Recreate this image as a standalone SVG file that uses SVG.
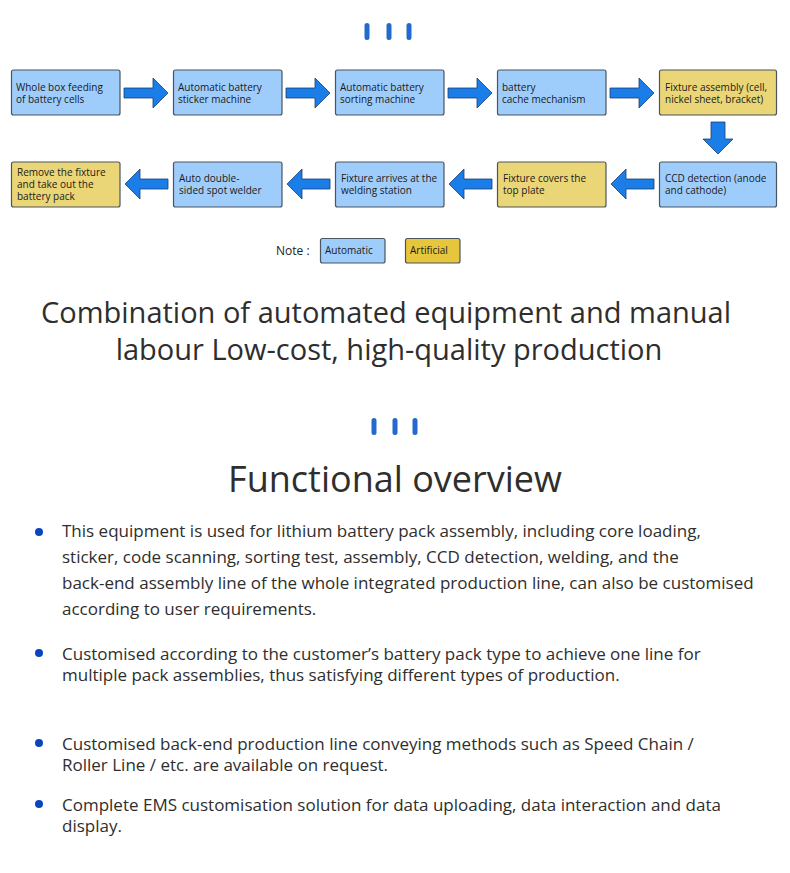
<svg xmlns="http://www.w3.org/2000/svg" width="790" height="873" viewBox="0 0 790 873">
<defs>
<style>
.auto{fill:#9fcdfb;stroke:#4a5560;stroke-width:1.2}
.man{fill:#ead676;stroke:#4a5560;stroke-width:1.2}
.bt{font-family:"Open Sans","Noto Sans",sans-serif;font-size:10px;fill:#1a1a1a}
.arr{fill:#1a7de8;stroke:#1b3f73;stroke-width:0.8}
.bar{fill:#2469cc}
.h1{font-family:"Open Sans","Noto Sans",sans-serif;font-size:29px;fill:#2e2e2e;text-anchor:middle}
.h2{font-family:"Open Sans","Noto Sans",sans-serif;font-size:36px;fill:#2e2e2e;text-anchor:middle}
.p{font-family:"Open Sans","Noto Sans",sans-serif;font-size:17px;fill:#2e2e2e}
.dot{fill:#0a45c0}
</style>
</defs>
<rect width="790" height="873" fill="#fff"/>
<g id="bars-top">
<rect class="bar" x="364.5" y="23" width="5" height="17" rx="2.5"/>
<rect class="bar" x="386.5" y="23" width="5" height="17" rx="2.5"/>
<rect class="bar" x="406.5" y="23" width="5" height="17" rx="2.5"/>
</g>
<g id="n1"><rect class="auto" x="11.5" y="70" width="108.5" height="45" rx="2"/><text class="bt" x="16" y="91">Whole box feeding</text><text class="bt" x="16" y="103">of battery cells</text></g>
<g id="n2"><rect class="auto" x="173.5" y="70" width="108.5" height="45" rx="2"/><text class="bt" x="178" y="91">Automatic battery</text><text class="bt" x="178" y="103">sticker machine</text></g>
<g id="n3"><rect class="auto" x="335.5" y="70" width="108.5" height="45" rx="2"/><text class="bt" x="340" y="91">Automatic battery</text><text class="bt" x="340" y="103">sorting machine</text></g>
<g id="n4"><rect class="auto" x="497.5" y="70" width="108.5" height="45" rx="2"/><text class="bt" x="502" y="91">battery</text><text class="bt" x="502" y="103">cache mechanism</text></g>
<g id="n5"><rect class="man" x="659.5" y="70" width="117" height="45" rx="2"/><text class="bt" x="665" y="91">Fixture assembly (cell,</text><text class="bt" x="665" y="103">nickel sheet, bracket)</text></g>
<g id="n6"><rect class="auto" x="659.5" y="162" width="117" height="45" rx="2"/><text class="bt" x="665" y="182">CCD detection (anode</text><text class="bt" x="665" y="194">and cathode)</text></g>
<g id="n7"><rect class="man" x="497.5" y="162" width="108.5" height="45" rx="2"/><text class="bt" x="503" y="182">Fixture covers the</text><text class="bt" x="503" y="194">top plate</text></g>
<g id="n8"><rect class="auto" x="335.5" y="162" width="108.5" height="45" rx="2"/><text class="bt" x="341" y="182">Fixture arrives at the</text><text class="bt" x="341" y="194">welding station</text></g>
<g id="n9"><rect class="auto" x="173.5" y="162" width="108.5" height="45" rx="2"/><text class="bt" x="179" y="182">Auto double-</text><text class="bt" x="179" y="194">sided spot welder</text></g>
<g id="n10"><rect class="man" x="11.5" y="162" width="108.5" height="45" rx="2"/><text class="bt" x="17" y="176">Remove the fixture</text><text class="bt" x="17" y="188">and take out the</text><text class="bt" x="17" y="200">battery pack</text></g>
<g id="connectors">
<polygon class="arr" points="124,88 153,88 153,78 168,93 153,108 153,98 124,98"/>
<polygon class="arr" points="286,88 315,88 315,78 330,93 315,108 315,98 286,98"/>
<polygon class="arr" points="448,88 477,88 477,78 492,93 477,108 477,98 448,98"/>
<polygon class="arr" points="610,88 639,88 639,78 654,93 639,108 639,98 610,98"/>
<polygon class="arr" points="711,122 725,122 725,139 733,139 718,154 703,139 711,139"/>
<polygon class="arr" points="654,179 626,179 626,169 611,184 626,199 626,189 654,189"/>
<polygon class="arr" points="492,179 464,179 464,169 449,184 464,199 464,189 492,189"/>
<polygon class="arr" points="330,179 302,179 302,169 287,184 302,199 302,189 330,189"/>
<polygon class="arr" points="168,179 140,179 140,169 125,184 140,199 140,189 168,189"/>
</g>
<g id="legend">
<text x="276" y="255" font-family="'Open Sans','Noto Sans',sans-serif" font-size="12" fill="#222">Note :</text>
<rect class="auto" x="320.5" y="238.5" width="64.5" height="24.5" rx="2"/>
<text class="bt" x="325" y="254">Automatic</text>
<rect x="405.5" y="238.5" width="54.5" height="24.5" rx="2" fill="#e6c63c" stroke="#4a5560" stroke-width="1.2"/>
<text class="bt" x="410" y="254">Artificial</text>
</g>
<g id="headline">
<text class="h1" x="386" y="323">Combination of automated equipment and manual</text>
<text class="h1" x="389" y="360">labour Low-cost, high-quality production</text>
</g>
<g id="bars-mid">
<rect class="bar" x="371.5" y="418" width="5" height="17" rx="2.5"/>
<rect class="bar" x="392.5" y="418" width="5" height="17" rx="2.5"/>
<rect class="bar" x="412.5" y="418" width="5" height="17" rx="2.5"/>
</g>
<text class="h2" x="395" y="492">Functional overview</text>
<g id="list">
<circle class="dot" cx="39" cy="532" r="4"/>
<text class="p" x="62" y="537">This equipment is used for lithium battery pack assembly, including core loading,</text>
<text class="p" x="62" y="563">sticker, code scanning, sorting test, assembly, CCD detection, welding, and the</text>
<text class="p" x="62" y="589">back-end assembly line of the whole integrated production line, can also be customised</text>
<text class="p" x="62" y="615">according to user requirements.</text>
<circle class="dot" cx="39" cy="653" r="4"/>
<text class="p" x="62" y="660">Customised according to the customer’s battery pack type to achieve one line for</text>
<text class="p" x="62" y="681">multiple pack assemblies, thus satisfying different types of production.</text>
<circle class="dot" cx="39" cy="743" r="4"/>
<text class="p" x="62" y="750">Customised back-end production line conveying methods such as Speed Chain /</text>
<text class="p" x="62" y="771">Roller Line / etc. are available on request.</text>
<circle class="dot" cx="39" cy="804" r="4"/>
<text class="p" x="62" y="811">Complete EMS customisation solution for data uploading, data interaction and data</text>
<text class="p" x="62" y="832">display.</text>
</g>
</svg>
